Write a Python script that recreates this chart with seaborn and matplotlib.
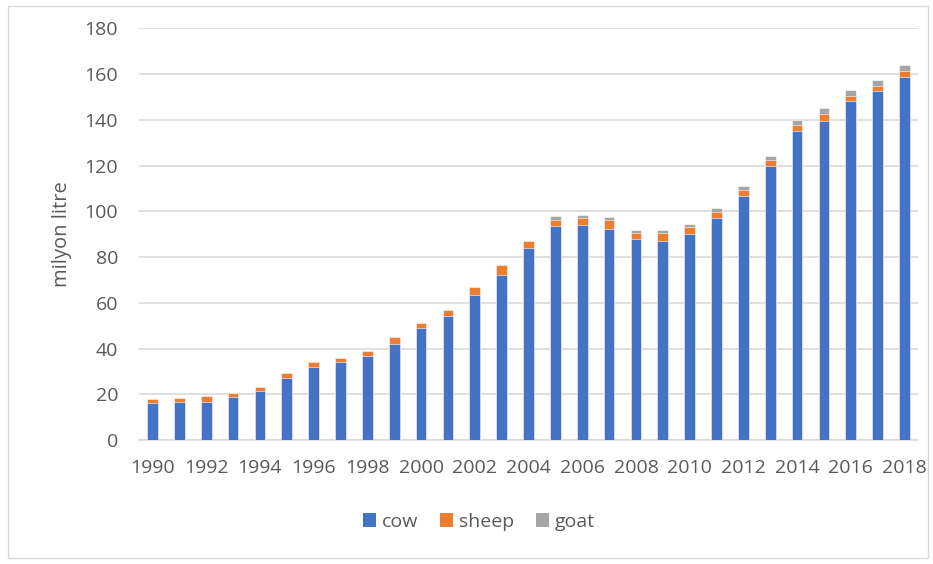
import matplotlib
matplotlib.use("Agg")
import matplotlib.pyplot as plt
import seaborn as sns
import pandas as pd
import numpy as np
from matplotlib.patches import Rectangle, Patch

years = list(range(1990, 2019))
cow = [16.0, 16.7, 16.7, 18.8, 21.4, 27.3, 31.9, 34.0, 36.7, 42.0,
       48.8, 54.0, 63.2, 72.3, 83.8, 93.4, 94.1, 92.4, 87.9, 87.0,
       90.1, 97.1, 106.7, 119.8, 135.1, 139.4, 148.2, 152.4, 158.7]
sheep = [1.8, 1.6, 2.4, 1.9, 1.8, 2.0, 2.4, 1.8, 2.3, 2.9,
         2.4, 3.0, 3.9, 4.1, 3.2, 3.0, 3.0, 3.8, 2.8, 3.4,
         2.9, 2.5, 2.5, 2.6, 2.6, 3.3, 2.1, 2.5, 2.6]
goat = [0, 0, 0, 0, 0, 0, 0, 0, 0, 0,
        0, 0, 0, 0, 0, 1.4, 1.1, 1.3, 1.1, 1.3,
        1.6, 1.7, 1.7, 1.9, 2.2, 2.3, 2.8, 2.7, 2.8]
labels = ["cow", "sheep", "goat"]
colors = ["#4472C4", "#ED7D31", "#A5A5A5"]

sns.set_theme(style="white")
plt.rcParams['font.family'] = ['Open Sans', 'DejaVu Sans']

df = pd.DataFrame({"year": [str(y) for y in years], "cow": cow, "sheep": sheep, "goat": goat})
df["c1"] = df["cow"]
df["c2"] = df["cow"] + df["sheep"]
df["c3"] = df["c2"] + df["goat"]

fig = plt.figure(figsize=(9.33, 5.64), dpi=100)
ax = fig.add_axes([139/933, 1 - 440/564, (918-139)/933, (440-28.3)/564])

for col, c in zip(["c3", "c2", "c1"], colors[::-1]):
    sns.barplot(data=df, x="year", y=col, color=c, ax=ax, width=0.4,
                edgecolor="white", linewidth=0.4, saturation=1, zorder=3)

ax.set_ylim(0, 180)
ax.set_yticks(range(0, 181, 20))
ax.grid(axis="y", color="#D9D9D9", linewidth=1.2, zorder=0)
ax.set_axisbelow(True)
for s in ["top", "right", "left"]:
    ax.spines[s].set_visible(False)
ax.spines["bottom"].set_color("#D9D9D9")
ax.spines["bottom"].set_linewidth(1.2)
ax.set_xticks(range(0, 29, 2))
ax.set_xticklabels([str(y) for y in years[::2]])
ax.tick_params(axis="both", length=0, labelsize=14, colors="#595959")
ax.tick_params(axis="y", pad=15)
ax.tick_params(axis="x", pad=14)
ax.set_xlabel("")
ax.set_ylabel("milyon litre", fontsize=14.5, color="#595959", labelpad=9)
ax.set_xlim(-0.5, 28.5)

handles = [Patch(facecolor=c, edgecolor="none") for c in colors]
fig.legend(handles, labels, loc="center", bbox_to_anchor=(479/933, 1 - 522/564), ncol=3,
           frameon=False, fontsize=14, handlelength=0.7, handleheight=0.7,
           columnspacing=1.1, handletextpad=0.3, labelcolor="#595959")

fig.patches.append(Rectangle((8/933, 6/564), 920/933, 552/564, transform=fig.transFigure,
                             fill=False, edgecolor="#D9D9D9", linewidth=1))

fig.savefig("out.png", dpi=100)
